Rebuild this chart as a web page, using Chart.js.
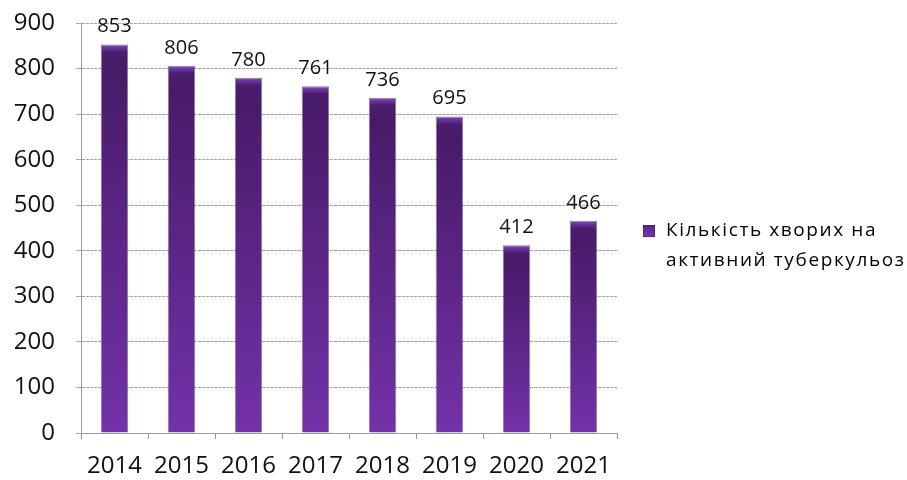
<!DOCTYPE html>
<html>
<head>
    <title>Кількість хворих на активний туберкульоз</title>
    <script src="https://cdn.jsdelivr.net/npm/chart.js"></script>
    <style>
        html, body { margin: 0; padding: 0; background: #ffffff; }
        #wrap { width: 907px; height: 480px; }
    </style>
</head>
<body>
    <div id="wrap"><canvas id="tbChart" width="907" height="480"></canvas></div>
    <script>
    const years = ['2014', '2015', '2016', '2017', '2018', '2019', '2020', '2021'];
    const patients = [853, 806, 780, 761, 736, 695, 412, 466];
    const seriesLabel = ['Кількість хворих на', 'активний туберкульоз'];
    const yTicks = [0, 100, 200, 300, 400, 500, 600, 700, 800, 900];

    const FONT = '"Open Sans", "DejaVu Sans", sans-serif';

    // vertical gradient per bar: soft bevel on top, dark below, lighter to the base
    function barFill(context) {
        const chart = context.chart;
        const y = chart.scales && chart.scales.y;
        if (!y || context.parsed == null || y.top === undefined) return '#5e2890';
        const top = y.getPixelForValue(context.parsed.y);
        const base = y.getPixelForValue(0);
        const h = Math.max(base - top, 1);
        const b = Math.min(8 / h, 0.3);
        const g = chart.ctx.createLinearGradient(0, top, 0, base);
        g.addColorStop(0, '#8752b8');
        g.addColorStop(b * 0.4, '#6a35a0');
        g.addColorStop(b, '#4a1d6c');
        g.addColorStop(Math.min(b + 0.05, 1), '#481b69');
        g.addColorStop(1, '#7332a9');
        return g;
    }

    // numbers above each bar
    const valueLabels = {
        id: 'valueLabels',
        afterDatasetsDraw(chart) {
            const ctx = chart.ctx;
            const meta = chart.getDatasetMeta(0);
            ctx.save();
            ctx.font = '20px ' + FONT;
            ctx.fillStyle = '#111111';
            ctx.textAlign = 'center';
            ctx.textBaseline = 'alphabetic';
            meta.data.forEach((bar, i) => {
                ctx.fillText(String(patients[i]), bar.x, bar.y - 12);
            });
            ctx.restore();
        }
    };

    // two-line legend to the right of the plot
    const sideLegend = {
        id: 'sideLegend',
        afterDraw(chart) {
            const ctx = chart.ctx;
            const area = chart.chartArea;
            const x = area.right + 26;
            const y = (area.top + area.bottom) / 2 + 3;
            ctx.save();
            const sq = ctx.createLinearGradient(0, y - 6, 0, y + 6);
            sq.addColorStop(0, '#5a2488');
            sq.addColorStop(1, '#7a36b0');
            ctx.fillStyle = sq;
            ctx.fillRect(x, y - 6, 12, 12);
            ctx.strokeStyle = 'rgba(60,20,80,0.5)';
            ctx.lineWidth = 1;
            ctx.strokeRect(x + 0.5, y - 5.5, 11, 11);
            ctx.font = '19px ' + FONT;
            ctx.letterSpacing = '1.6px';
            ctx.fillStyle = '#000000';
            ctx.textAlign = 'left';
            ctx.textBaseline = 'middle';
            seriesLabel.forEach((line, i) => {
                ctx.fillText(line, x + 23, y + i * 30);
            });
            ctx.restore();
        }
    };

    const ctx = document.getElementById('tbChart').getContext('2d');
    const chart = new Chart(ctx, {
        type: 'bar',
        data: {
            labels: years,
            datasets: [{
                label: seriesLabel.join(' '),
                data: patients,
                backgroundColor: barFill,
                borderColor: 'rgba(45,12,65,0.55)',
                borderWidth: 1,
                categoryPercentage: 1,
                barPercentage: 0.41
            }]
        },
        options: {
            responsive: false,
            animation: false,
            layout: {
                padding: { top: 0, right: 290, bottom: 0, left: 12 }
            },
            scales: {
                x: {
                    offset: true,
                    afterFit(axis) { axis.height = 47; },
                    grid: {
                        offset: true,
                        drawOnChartArea: false,
                        tickLength: 6,
                        color: '#9a9a9a'
                    },
                    border: { color: '#9a9a9a' },
                    ticks: {
                        color: '#111111',
                        padding: 13,
                        font: { family: FONT, size: 24, lineHeight: 1.2 }
                    }
                },
                y: {
                    min: 0,
                    max: 900,
                    afterBuildTicks(axis) {
                        axis.ticks = yTicks.map(v => ({ value: v }));
                    },
                    afterFit(axis) {
                        axis.width = 69;
                        axis.paddingTop = 23;
                        axis.paddingBottom = 0;
                    },
                    grid: {
                        color: '#a6a6a6',
                        tickLength: 5
                    },
                    border: { color: '#9a9a9a', dash: [3, 1] },
                    ticks: {
                        color: '#111111',
                        padding: 21,
                        font: { family: FONT, size: 24, lineHeight: 1.0 }
                    }
                }
            },
            plugins: {
                legend: { display: false },
                tooltip: { enabled: false }
            }
        },
        plugins: [valueLabels, sideLegend]
    });
    </script>
</body>
</html>
